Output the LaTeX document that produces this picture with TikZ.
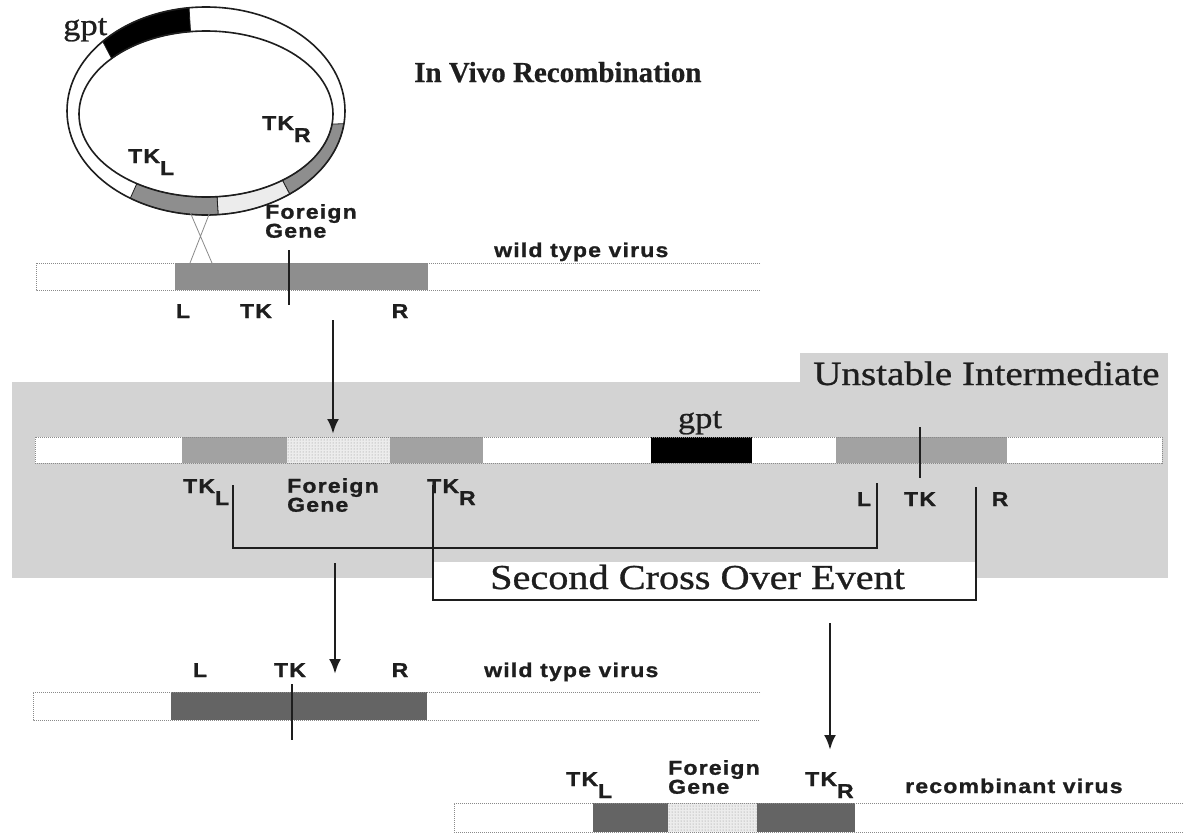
\documentclass[tikz,border=0pt]{standalone}
\usepackage{fontspec}
\setmainfont{Liberation Serif}[FakeBold=0.6]
\newfontfamily\labfont[FakeStretch=1.15,LetterSpace=6,FakeBold=1.2]{Liberation Sans Bold}
\newfontfamily\capfont[FakeStretch=1.15,FakeBold=0.8]{Liberation Serif}
\usetikzlibrary{arrows.meta,patterns}
\definecolor{ink}{HTML}{1E1E1E}
\definecolor{bandgray}{HTML}{D3D3D3}
\definecolor{tkgray}{HTML}{A2A2A2}
\definecolor{tkmed}{HTML}{8E8E8E}
\definecolor{tkdark}{HTML}{646464}
\definecolor{foreign}{HTML}{ECECEC}
\definecolor{outline}{HTML}{8A8A8A}
\tikzset{
  every node/.style={inner sep=0pt,text=ink},
  lab/.style={font=\labfont\fontsize{20}{19}\selectfont,anchor=base},
  head/.style={font=\capfont\fontsize{34}{38}\selectfont,anchor=base west},
  gene/.style={font=\capfont\fontsize{30}{30}\selectfont,anchor=base},
  flow/.style={-{Latex[length=15pt,width=12pt]},line width=2.8pt,draw=ink},
  bracket/.style={line width=2pt,draw=ink},
  tick/.style={line width=1.4pt,draw=ink},
  edge/.style={draw=outline,densely dotted,line width=1pt},
  stipple/.style={pattern=dots,pattern color=black!45},
}
\newcommand{\tksub}[1]{TK\raisebox{-12pt}{#1}}
\newcommand{\ringseg}[3]{\filldraw[fill=#1,draw=ink,line width=.8pt] plot[domain=#2:#3,samples=24] ({206+139*cos(\x)},{111-104*sin(\x)}) -- plot[domain=#3:#2,samples=24] ({206+127*cos(\x)},{114-83*sin(\x)}) -- cycle;}

\begin{document}
\begin{tikzpicture}[x=1pt,y=-1pt]
\path[use as bounding box] (0,0) rectangle (1183,833);
\fill[white] (0,0) rectangle (1183,833);
% plasmid ring
\fill[white] (206,111) ellipse[x radius=139,y radius=104];
\ringseg{black}{97}{138}
\ringseg{tkmed}{-53}{-7}
\ringseg{foreign}{-85}{-53}
\ringseg{tkmed}{-123}{-85}
\draw[line width=1.6pt,draw=ink] (206,111) ellipse[x radius=139,y radius=104];
\draw[line width=1.6pt,draw=ink] (206,114) ellipse[x radius=127,y radius=83];
\node[gene,anchor=base west] (gptring) at (63,35) {gpt};
\node[lab,anchor=base west] (tkrring) at (262,130) {\tksub{R}};
\node[lab,anchor=base west] (tklring) at (128,163) {\tksub{L}};
\node[lab,anchor=north west,align=left] (fgring) at (265,204) {Foreign\\Gene};
\node[font=\bfseries\fontsize{29}{30}\selectfont,anchor=base west] (title) at (414,82) {In Vivo Recombination};
\draw[line width=.8pt,draw=outline] (190,212) -- (212,263) (210,212) -- (190,263);
% wild type virus
\fill[tkmed] (175,263) rectangle (428,290);
\draw[edge] (760,263) -- (36,263) -- (36,290) -- (760,290);
\draw[tick] (289,250) -- (289,305);
\node[lab,anchor=base west] (wildtop) at (494,257) {wild type virus};
\node[lab] (ltop) at (183,318) {L};
\node[lab] (tktop) at (256,318) {TK};
\node[lab] (rtop) at (400,318) {R};
% unstable intermediate
\fill[bandgray] (12,382) rectangle (1168,578);
\fill[bandgray] (800,353) rectangle (1168,382);
\node[head] (unstable) at (813,385) {Unstable Intermediate};
\coordinate (downA) at (333,320);
\coordinate (downAe) at (333,434);
\draw[flow] (downA) -- (downAe);
\fill[white] (35,437) rectangle (1162,463);
\fill[tkgray] (182,437) rectangle (287,463);
\fill[foreign] (287,437) rectangle (390,463);
\fill[stipple] (287,437) rectangle (390,463);
\fill[tkgray] (390,437) rectangle (483,463);
\fill[black] (651,437) rectangle (752,463);
\fill[tkgray] (836,437) rectangle (1007,463);
\draw[edge] (35,437) rectangle (1162,463);
\draw[tick] (920,427) -- (920,478);
\node[gene] (gptmid) at (700,428) {gpt};
\node[lab,anchor=base west] (tklmid) at (183,493) {\tksub{L}};
\node[lab,anchor=north west,align=left] (fgmid) at (287,478) {Foreign\\Gene};
\node[lab,anchor=base west] (tkrmid) at (427,493) {\tksub{R}};
\node[lab] (lmid) at (864,506) {L};
\node[lab] (tkcross) at (920,506) {TK};
\node[lab] (rmid) at (1000,506) {R};
\coordinate (kl) at (233,485);
\coordinate (kL) at (877,483);
\coordinate (kr) at (433,485);
\coordinate (kR) at (976,487);
\draw[bracket] (kl) -- (233,548) -| (kL);
\fill[white] (433,562) rectangle (976,600);
\draw[bracket] (kr) -- (433,600) -| (kR);
\node[head,font=\capfont\fontsize{35}{38}\selectfont] (second) at (490,589) {Second Cross Over Event};
\coordinate (downB) at (335,563);
\coordinate (downBe) at (335,674);
\draw[flow] (downB) -- (downBe);
\coordinate (downC) at (830,623);
\coordinate (downCe) at (830,750);
\draw[flow] (downC) -- (downCe);
% wild type virus after excision
\fill[tkdark] (171,692) rectangle (427,720);
\draw[edge] (760,692) -- (33,692) -- (33,720) -- (760,720);
\draw[tick] (292,684) -- (292,740);
\node[lab] (lbot) at (200,677) {L};
\node[lab] (tkbot) at (290,677) {TK};
\node[lab] (rbot) at (400,677) {R};
\node[lab,anchor=base west] (wildbot) at (484,677) {wild type virus};
% recombinant virus
\fill[tkdark] (593,803) rectangle (668,832);
\fill[foreign] (668,803) rectangle (757,832);
\fill[stipple] (668,803) rectangle (757,832);
\fill[tkdark] (757,803) rectangle (855,832);
\draw[edge] (1183,803) -- (454,803) -- (454,832) -- (1183,832);
\node[lab,anchor=base west] (tklrec) at (566,786) {\tksub{L}};
\node[lab,anchor=north west,align=left] (fgrec) at (668,760) {Foreign\\Gene};
\node[lab,anchor=base west] (tkrrec) at (805,786) {\tksub{R}};
\node[lab,anchor=base west] (recomb) at (905,793) {recombinant virus};
\end{tikzpicture}
\end{document}
